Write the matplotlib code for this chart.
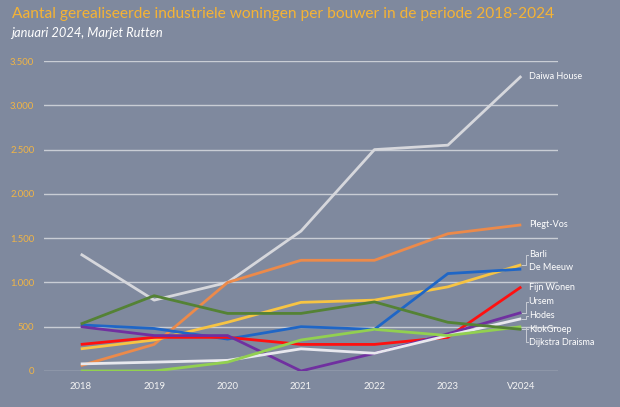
import matplotlib
matplotlib.use("Agg")
import matplotlib.pyplot as plt

# Gerealiseerde industriele woningen per bouwer
jaren = ["2018", "2019", "2020", "2021", "2022", "2023", "V2024"]

daiwa_house = [1320, 800, 1000, 1580, 2500, 2550, 3330]
plegt_vos = [60, 300, 1000, 1250, 1250, 1550, 1650]
barli = [250, 350, 550, 775, 800, 950, 1200]
de_meeuw = [520, 480, 360, 500, 470, 1100, 1150]
fijn_wonen = [300, 380, 380, 300, 300, 380, 950]
ursem = [500, 400, 400, 0, 200, 420, 660]
hodes = [80, 100, 120, 250, 200, 400, 590]
klokgroep = [0, 0, 100, 350, 470, 400, 500]
dijkstra_draisma = [530, 850, 650, 650, 780, 550, 470]

bouwers = ["Daiwa House", "Plegt-Vos", "Barli", "De Meeuw", "Fijn Wonen",
           "Ursem", "Hodes", "KlokGroep", "Dijkstra Draisma"]
reeksen = [daiwa_house, plegt_vos, barli, de_meeuw, fijn_wonen,
           ursem, hodes, klokgroep, dijkstra_draisma]
kleuren = ["#D6D7DC", "#EC8A4A", "#F7C443", "#1F66C6", "#FF1010",
           "#7030A0", "#E8E8EE", "#92D050", "#548235"]

y_ticks = [0, 500, 1000, 1500, 2000, 2500, 3000, 3500]
y_labels = ["0", "500", "1.000", "1.500", "2.000", "2.500", "3.000", "3.500"]

# hoogte van de labels rechts (stapeling zoals in het origineel)
label_y = [3320, 1650, 1310, 1163, 948, 779, 621, 474, 327]

bg = "#7F899E"
fig = plt.figure(figsize=(6.2, 4.07), dpi=100, facecolor=bg)
ax = fig.add_axes([0.071, 0.0885, 0.829, 0.7615], facecolor=bg)

x = list(range(len(jaren)))
for naam, vals, kleur in zip(bouwers, reeksen, kleuren):
    ax.plot(x, vals, color=kleur, lw=2.0, solid_capstyle="butt")

for naam, vals, ly in zip(bouwers, reeksen, label_y):
    ax.text(6.1, ly, naam, color="white", fontsize=6.5, va="center",
            ha="left", family="Lato")
    if abs(ly - vals[-1]) > 25:
        ax.plot([6.01, 6.06, 6.06, 6.09], [vals[-1], vals[-1], ly, ly],
                color="#C8CCD4", lw=0.7)

ax.set_xlim(-0.5, 6.5)
ax.set_ylim(0, 3500)
ax.set_yticks(y_ticks)
ax.set_yticklabels(y_labels)
ax.set_xticks(x)
ax.set_xticklabels(jaren)
ax.grid(axis="y", color="#C9CDD5", lw=1.0)
ax.set_axisbelow(True)
for s in ax.spines.values():
    s.set_visible(False)
ax.tick_params(axis="both", length=0, labelsize=6.8)
ax.tick_params(axis="y", colors="#F2B544", pad=7)
ax.tick_params(axis="x", colors="#F4F4F4", pad=8)
for t in ax.get_xticklabels() + ax.get_yticklabels():
    t.set_family("Lato")

fig.text(0.019, 0.966, "Aantal gerealiseerde industriele woningen per bouwer in de periode 2018-2024",
         color="#F5B335", fontsize=11.2, family="Lato", va="center")
fig.text(0.018, 0.919, "januari 2024, Marjet Rutten", color="white",
         fontsize=9.3, family="Lato", style="italic", va="center")

fig.savefig("out.png", dpi=100, facecolor=bg)
